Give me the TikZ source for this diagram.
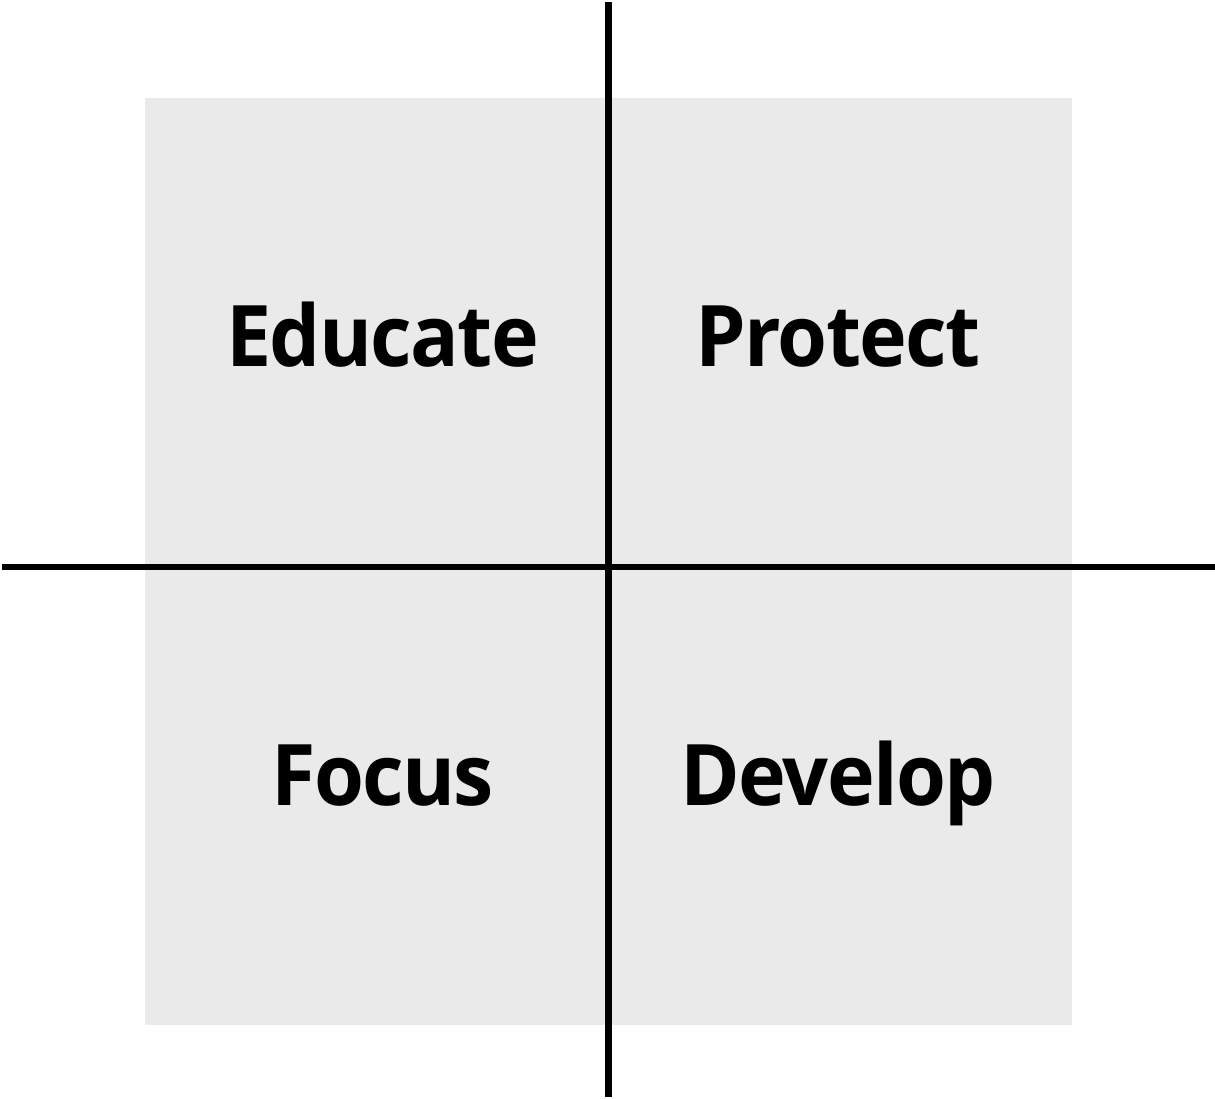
\documentclass[tikz,border=0pt]{standalone}
\usepackage{fontspec}
\setmainfont{Open Sans}[LetterSpace=-2]
\definecolor{quadfill}{HTML}{EAEAEA}
\begin{document}
\begin{tikzpicture}[x=1pt,y=-1pt,
  axis/.style={line width=6.5pt,black},
  label/.style={inner sep=0pt,anchor=base,xscale=0.95,font=\fontsize{85}{100}\selectfont\bfseries}]
\useasboundingbox[fill=white] (0,0) rectangle (1215,1098);
% shaded square behind the four quadrants
\fill[quadfill] (145,98) rectangle (1072,1025);
% axes
\coordinate (top) at (608.5,2);
\coordinate (bottom) at (608.5,1097);
\coordinate (left) at (2,567);
\coordinate (right) at (1215,567);
\draw[axis] (left) -- (right);
\draw[axis] (top) -- (bottom);
% quadrant labels
\node[label] (educate) at (382.5,366) {Educate};
\node[label] (protect) at (838,366) {Protect};
\node[label] (focus) at (382.5,805) {Focus};
\node[label] (develop) at (838,805) {Develop};
\end{tikzpicture}
\end{document}
